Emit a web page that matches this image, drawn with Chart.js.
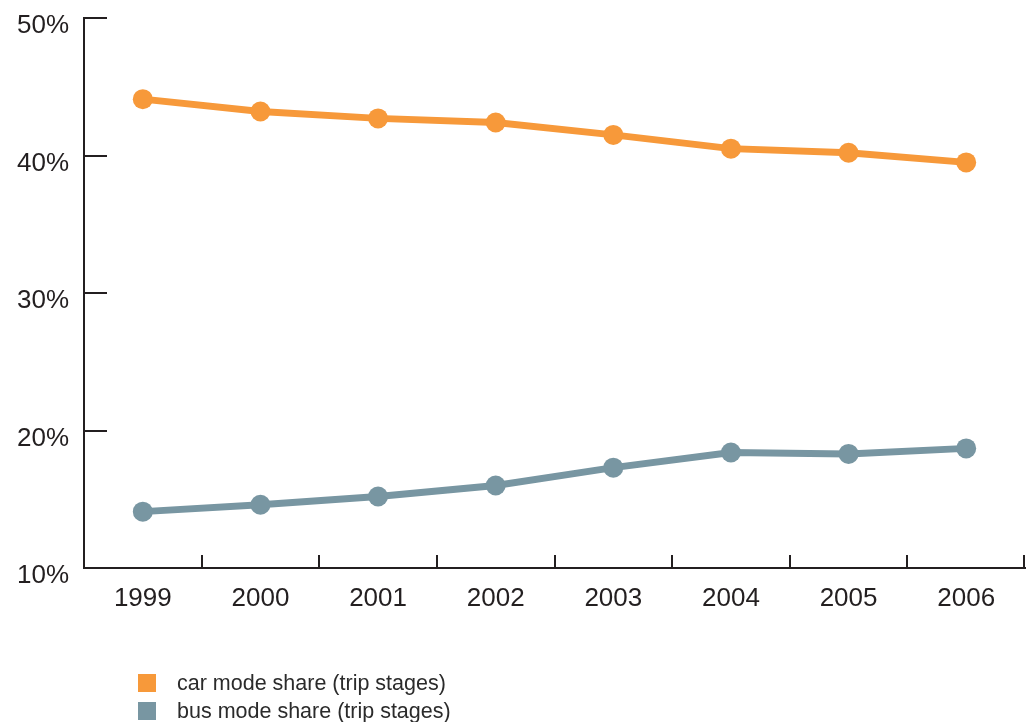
<!DOCTYPE html>
<html>
<head>
<meta charset="utf-8">
<script src="https://cdn.jsdelivr.net/npm/chart.js@4/dist/chart.umd.min.js"></script>
<style>
  html, body { margin: 0; padding: 0; background: #fff; }
  #wrap { position: relative; width: 1035px; height: 722px; }
  #c { position: absolute; left: 0; top: 0; }
  .leg { position: absolute; left: 138px; font-family: "Liberation Sans", Arial, sans-serif; font-size: 21.5px; color: #2b2b2b; line-height: 18px; white-space: nowrap; }
  .leg span.sw { display: inline-block; width: 18px; height: 18px; vertical-align: top; margin-right: 21px; }
</style>
</head>
<body>
<div id="wrap">
  <canvas id="c" width="1035" height="722"></canvas>
  <div class="leg" id="leg1" style="top:674px"><span class="sw" style="background:#f7993a"></span>car mode share (trip stages)</div>
  <div class="leg" id="leg2" style="top:702px"><span class="sw" style="background:#7896a2"></span>bus mode share (trip stages)</div>
</div>
<script>
const years = ["1999", "2000", "2001", "2002", "2003", "2004", "2005", "2006"];
const carShare = [44.1, 43.2, 42.7, 42.4, 41.5, 40.5, 40.2, 39.5];
const busShare = [14.1, 14.6, 15.2, 16.0, 17.3, 18.4, 18.3, 18.7];
const yTicks = [10, 20, 30, 40, 50];

const axisColor = "#231f20";
const fontFam = "'Liberation Sans', Arial, sans-serif";

const innerTicks = {
  id: "innerTicks",
  beforeDatasetsDraw(chart) {
    const ctx = chart.ctx;
    const area = chart.chartArea;
    const xs = chart.scales.x, ys = chart.scales.y;
    ctx.save();
    ctx.strokeStyle = axisColor;
    ctx.lineWidth = 2;
    ctx.beginPath();
    ys.ticks.forEach(t => {
      if (t.value === ys.min) return;
      const y = Math.round(ys.getPixelForValue(t.value));
      ctx.moveTo(area.left, y);
      ctx.lineTo(area.left + 23, y);
    });
    const n = years.length;
    for (let i = 0; i < n; i++) {
      const x = i < n - 1 ? (xs.getPixelForValue(i) + xs.getPixelForValue(i + 1)) / 2 : area.right - 1;
      ctx.moveTo(Math.round(x), area.bottom);
      ctx.lineTo(Math.round(x), area.bottom - 13);
    }
    ctx.stroke();
    ctx.restore();
  }
};

new Chart(document.getElementById("c"), {
  type: "line",
  data: {
    labels: years,
    datasets: [
      { label: "car mode share (trip stages)", data: carShare, borderColor: "#f7993a", backgroundColor: "#f7993a",
        pointBackgroundColor: "#f7993a", borderWidth: 7, pointRadius: 10, pointBorderWidth: 0, tension: 0 },
      { label: "bus mode share (trip stages)", data: busShare, borderColor: "#7896a2", backgroundColor: "#7896a2",
        pointBackgroundColor: "#7896a2", borderWidth: 7, pointRadius: 10, pointBorderWidth: 0, tension: 0 }
    ]
  },
  options: {
    responsive: false,
    animation: false,
    layout: { padding: { top: 18, right: 6, left: 0, bottom: 0 } },
    plugins: { legend: { display: false }, tooltip: { enabled: false } },
    scales: {
      x: {
        type: "category",
        offset: true,
        grid: { display: true, drawOnChartArea: false, drawTicks: false },
        border: { display: true, color: axisColor, width: 2 },
        ticks: { color: axisColor, padding: 15, font: { family: fontFam, size: 26 }, maxRotation: 0 },
        afterFit(s) { s.height = 154; s.paddingLeft = 0; s.paddingRight = 0; }
      },
      y: {
        min: 10, max: 50,
        afterBuildTicks(s) { s.ticks = yTicks.map(v => ({ value: v })); },
        grid: { display: true, drawOnChartArea: false, drawTicks: false },
        border: { display: true, color: axisColor, width: 2 },
        ticks: { color: axisColor, padding: 15, labelOffset: 8, font: { family: fontFam, size: 26 },
                 callback: v => v + "%" },
        afterFit(s) { s.width = 84; s.paddingTop = 0; s.paddingBottom = 0; }
      }
    }
  },
  plugins: [innerTicks]
});
</script>
</body>
</html>
